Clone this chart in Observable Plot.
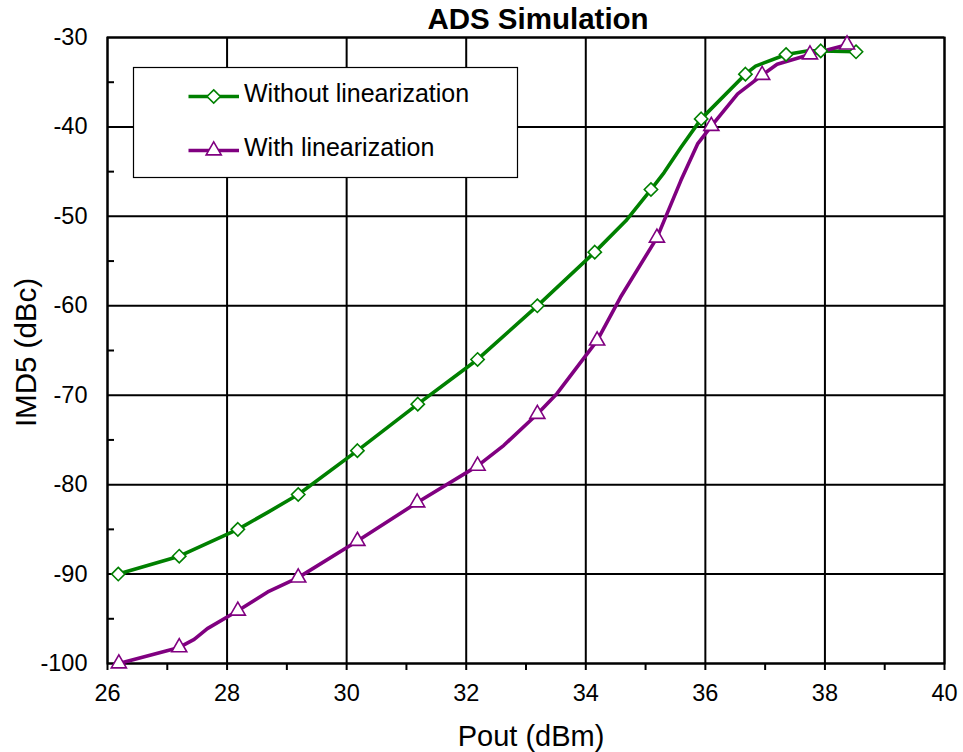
<!DOCTYPE html>
<html>
<head>
<meta charset="utf-8">
<script src="https://cdn.jsdelivr.net/npm/d3@7"></script>
<script src="https://cdn.jsdelivr.net/npm/@observablehq/plot@0.6"></script>
<style>
  html, body { margin: 0; padding: 0; background: #fff; }
  #chart svg { display: block; }
</style>
</head>
<body>
<div id="chart"></div>
<script>
// ---- text ----
const chartTitle = "ADS Simulation";
const xLabel = "Pout (dBm)";
const yLabel = "IMD5 (dBc)";
const seriesNames = ["Without linearization", "With linearization"];
const seriesColors = ["#008000", "#800080"];

// ---- ticks ----
const xTicks = [26, 28, 30, 32, 34, 36, 38, 40];
const xMinorTicks = [26, 27, 28, 29, 30, 31, 32, 33, 34, 35, 36, 37, 38, 39, 40];
const yTicks = [-100, -90, -80, -70, -60, -50, -40, -30];
const yMinorTicks = [-95, -85, -75, -65, -55, -45, -35];

// ---- Without linearization: marker points ----
const withoutX = [26.18, 27.2, 28.18, 29.19, 30.18, 31.19, 32.19, 33.19, 34.15, 35.09, 35.93, 36.67, 37.35, 37.93, 38.52];
const withoutY = [-90, -88, -85, -81.1, -76.2, -71, -66, -60, -54, -47, -39.1, -34.1, -31.9, -31.5, -31.6];
// ---- Without linearization: simulated trace ----
const withoutTraceX = [26.18, 27.2, 28.18, 28.68, 29.19, 30.18, 31.19, 32.19, 33.19, 34.15, 34.67, 35.09, 35.31, 35.59, 35.93, 36.67, 36.84, 37.35, 37.7, 37.93, 38.52];
const withoutTraceY = [-90, -88, -85, -83.1, -81.1, -76.2, -71, -66, -60, -54, -50.5, -47, -45.1, -42.3, -39.1, -34.1, -33.2, -31.9, -31.5, -31.5, -31.6];

// ---- With linearization: marker points ----
const withX = [26.19, 27.2, 28.18, 29.19, 30.18, 31.18, 32.19, 33.19, 34.19, 35.19, 36.1, 36.95, 37.75, 38.37];
const withY = [-100, -98.2, -94.1, -90.4, -86.3, -82, -77.9, -72.1, -63.9, -52.4, -39.9, -34.2, -31.9, -30.8];
// ---- With linearization: simulated trace ----
const withTraceX = [26.19, 27.2, 27.45, 27.67, 28.18, 28.68, 29.19, 30.18, 31.18, 32.19, 32.63, 33.19, 33.52, 34.19, 34.58, 35.19, 35.59, 35.87, 36.1, 36.54, 36.95, 37.2, 37.75, 38.37];
const withTraceY = [-100, -98.2, -97.3, -96.1, -94.1, -92, -90.4, -86.3, -82, -77.9, -75.6, -72.1, -69.8, -63.9, -59.05, -52.4, -46, -41.9, -39.9, -36.3, -34.2, -33, -31.9, -30.8];

// build tables
const zip = (xs, ys) => xs.map((x, i) => ({x, y: ys[i]}));
const withoutMarkers = zip(withoutX, withoutY);
const withoutTrace = zip(withoutTraceX, withoutTraceY);
const withMarkers = zip(withX, withY);
const withTrace = zip(withTraceX, withTraceY);

const font = "'Liberation Sans', Arial, Helvetica, sans-serif";
const W = 963, H = 752;
const mL = 107, mR = 19, mT = 37, mB = 89;
const innerW = W - mL - mR;
const diamondR = 6, triangleR = 5.6;

const chart = Plot.plot({
  width: W,
  height: H,
  marginTop: mT,
  marginLeft: mL,
  marginRight: mR,
  marginBottom: mB,
  style: {fontFamily: font, fontSize: "23.5px", background: "white", color: "black", overflow: "visible"},
  x: {domain: [26, 40]},
  y: {domain: [-100, -30]},
  marks: [
    Plot.gridX(xTicks, {stroke: "black", strokeOpacity: 1, strokeWidth: 2}),
    Plot.gridY(yTicks, {stroke: "black", strokeOpacity: 1, strokeWidth: 2}),
    Plot.tickY(yMinorTicks, {y: d => d, insetRight: innerW - 7, stroke: "black", strokeWidth: 2}),
    Plot.axisX(xMinorTicks, {tickSize: 7, tickFormat: () => "", label: null, strokeWidth: 2}),
    Plot.axisX(xTicks, {tickSize: 0, tickPadding: 21, label: null, fontSize: 23.5, tickFormat: d => String(d)}),
    Plot.axisY(yTicks, {tickSize: 0, tickPadding: 20, label: null, fontSize: 23.5, tickFormat: d => String(d)}),
    Plot.frame({stroke: "black", strokeWidth: 2}),
    Plot.line(withoutTrace, {x: "x", y: "y", stroke: seriesColors[0], strokeWidth: 3.6}),
    Plot.line(withTrace, {x: "x", y: "y", stroke: seriesColors[1], strokeWidth: 3.6}),
    Plot.dot(withoutMarkers, {x: "x", y: "y", symbol: "diamond2", r: diamondR, stroke: seriesColors[0], fill: "white", strokeWidth: 1.6}),
    Plot.dot(withMarkers, {x: "x", y: "y", symbol: "triangle", r: triangleR, stroke: seriesColors[1], fill: "white", strokeWidth: 1.6}),
    Plot.text([chartTitle], {text: d => d, frameAnchor: "top", lineAnchor: "middle", textAnchor: "middle", dx: 12, dy: -18, fontSize: 29.5, fontWeight: "bold", fill: "black"}),
    Plot.text([xLabel], {text: d => d, frameAnchor: "bottom", lineAnchor: "middle", textAnchor: "middle", dx: 5, dy: 73, fontSize: 29, fill: "black"}),
    Plot.text([yLabel], {text: d => d, frameAnchor: "left", lineAnchor: "middle", textAnchor: "middle", rotate: -90, dx: -81, dy: 2, fontSize: 29.5, fill: "black"})
  ]
});

document.getElementById("chart").appendChild(chart);

// ---- legend (inside the plot area, top-left) ----
const svg = d3.select(chart);
const lg = svg.append("g").attr("font-family", font).attr("text-anchor", "start");
lg.append("rect")
  .attr("x", 133.5).attr("y", 67.5).attr("width", 384).attr("height", 110)
  .attr("fill", "white").attr("stroke", "black").attr("stroke-width", 1.2);
const legendSymbols = [[d3.symbolDiamond2, diamondR], [d3.symbolTriangle, triangleR]];
const legendRowY = [96.5, 150.5];
seriesNames.forEach((name, i) => {
  const y = legendRowY[i];
  lg.append("line")
    .attr("x1", 188.5).attr("x2", 239).attr("y1", y).attr("y2", y)
    .attr("stroke", seriesColors[i]).attr("stroke-width", 3.6);
  const [sym, r] = legendSymbols[i];
  lg.append("path")
    .attr("transform", `translate(213.7,${y})`)
    .attr("d", d3.symbol(sym, Math.PI * r * r)())
    .attr("fill", "white").attr("stroke", seriesColors[i]).attr("stroke-width", 1.6);
  lg.append("text")
    .attr("x", 244).attr("y", y + 5.3)
    .attr("text-anchor", "start")
    .attr("font-size", 25).attr("fill", "black")
    .text(name);
});
</script>
</body>
</html>
